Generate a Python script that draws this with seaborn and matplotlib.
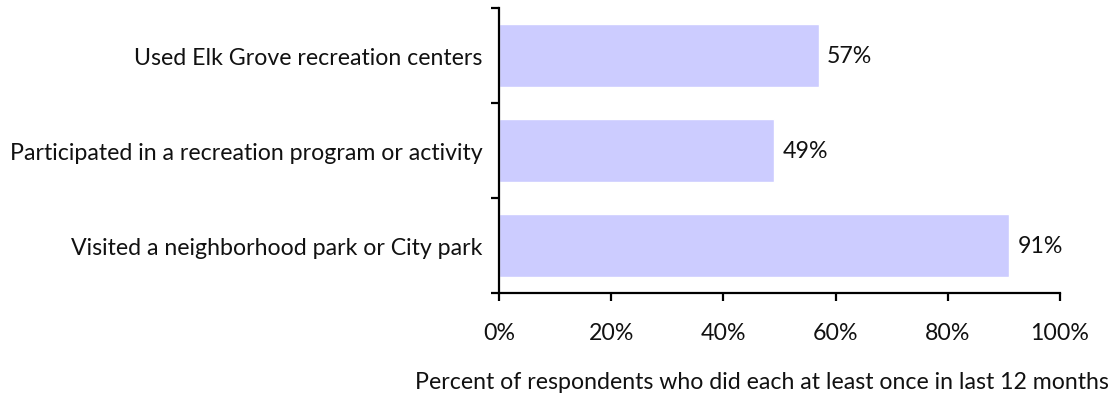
import numpy as np
import pandas as pd
import matplotlib
matplotlib.use("Agg")
import matplotlib.pyplot as plt
import seaborn as sns
from matplotlib.ticker import FixedLocator, FuncFormatter

categories = [
    "Used Elk Grove recreation centers",
    "Participated in a recreation program or activity",
    "Visited a neighborhood park or City park",
]
values = [57, 49, 91]
x_ticks = [0, 20, 40, 60, 80, 100]
x_label = "Percent of respondents who did each at least once in last 12 months"

df = pd.DataFrame({"activity": categories, "pct": values})

sns.set_style("white")
plt.rcParams["font.family"] = ["Lato", "DejaVu Sans"]
FS = 16.7

fig = plt.figure(figsize=(11.15, 4.02), dpi=100)
ax = fig.add_axes([0.4475, 0.2687, 0.5031, 0.7089])

sns.barplot(data=df, x="pct", y="activity", order=categories, orient="h",
            color="#CCCCFF", saturation=1, width=0.67, ax=ax)

ax.set_xlim(0, 100)
ax.set_ylim(2.5, -0.5)

# value labels
for i, v in enumerate(values):
    ax.text(v + 1.5, i, f"{v}%", va="center", ha="left", fontsize=FS, color="#111111")

# spines
for s in ["top", "right"]:
    ax.spines[s].set_visible(False)
for s in ["left", "bottom"]:
    ax.spines[s].set_color("black")
    ax.spines[s].set_linewidth(1.6)

# x axis
ax.set_xticks(x_ticks)
ax.xaxis.set_major_formatter(FuncFormatter(lambda v, p: f"{v:.0f}%"))
ax.tick_params(axis="x", direction="out", length=6, width=1.6, color="black",
               pad=15, labelsize=FS, labelcolor="#111111", bottom=True)
ax.set_xlabel(x_label, fontsize=FS, color="#111111")
ax.xaxis.set_label_coords(0.469, -0.312)
ax.xaxis.label.set_va("center")

# y axis: ticks at category boundaries, labels centered on bars
ax.yaxis.set_major_locator(FixedLocator([-0.5, 0.5, 1.5, 2.5]))
ax.set_yticklabels([])
ax.yaxis.set_minor_locator(FixedLocator([0, 1, 2]))
ax.set_yticklabels(categories, minor=True)
ax.tick_params(axis="y", which="major", direction="out", length=6, width=1.6,
               color="black", left=True)
ax.tick_params(axis="y", which="minor", length=0, pad=12, labelsize=FS,
               labelcolor="#111111", left=True)
ax.set_ylabel("")

fig.savefig("out.png", dpi=100)
